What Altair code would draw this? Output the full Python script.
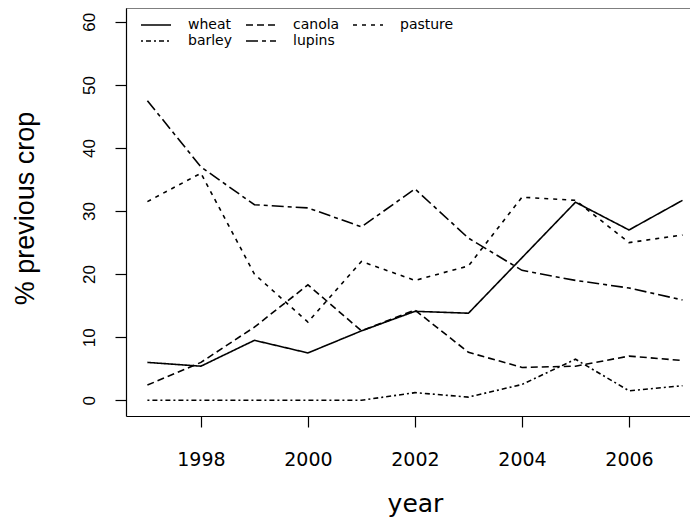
import altair as alt
import pandas as pd

years = [1997, 1998, 1999, 2000, 2001, 2002, 2003, 2004, 2005, 2006, 2007]
wheat = [6.0, 5.4, 9.5, 7.5, 11.0, 14.1, 13.8, 22.6, 31.4, 27.0, 31.7]
barley = [0.0, 0.0, 0.0, 0.0, 0.0, 1.2, 0.5, 2.5, 6.5, 1.5, 2.3]
canola = [2.4, 6.0, 11.6, 18.3, 11.0, 14.3, 7.6, 5.2, 5.4, 7.0, 6.3]
lupins = [47.5, 37.0, 31.0, 30.5, 27.5, 33.5, 25.7, 20.6, 19.0, 17.8, 15.9]
pasture = [31.5, 36.0, 20.0, 12.4, 22.0, 19.0, 21.3, 32.2, 31.7, 25.0, 26.2]

series = {"wheat": wheat, "barley": barley, "canola": canola,
          "lupins": lupins, "pasture": pasture}
legend_order = ["wheat", "barley", "canola", "lupins", "pasture"]
dash_styles = [[1, 0], [2, 3, 5, 3], [7, 4], [12, 4, 4, 4], [4, 5]]
x_ticks = [1998, 2000, 2002, 2004, 2006]
y_ticks = [0, 10, 20, 30, 40, 50, 60]

rows = []
for crop, vals in series.items():
    for yr, v in zip(years, vals):
        rows.append({"year": yr, "pct": v, "crop": crop})
df = pd.DataFrame(rows)

W, H = 564, 408

lines = alt.Chart(df).mark_line(color="black", strokeWidth=1.6, clip=True).encode(
    x=alt.X("year:Q",
            scale=alt.Scale(domain=[1996.6, 2007.14], nice=False, zero=False),
            axis=alt.Axis(values=x_ticks, format="d", title="year")),
    y=alt.Y("pct:Q",
            scale=alt.Scale(domain=[-2.5, 62.2], nice=False, zero=False),
            axis=alt.Axis(values=y_ticks, title="% previous crop")),
    strokeDash=alt.StrokeDash(
        "crop:N",
        scale=alt.Scale(domain=legend_order, range=dash_styles),
        legend=alt.Legend(title=None, orient="none", legendX=14, legendY=9,
                          columns=3, symbolType="stroke", symbolSize=900,
                          symbolStrokeWidth=1.5, symbolStrokeColor="black",
                          labelFont="DejaVu Sans", labelFontSize=14,
                          labelColor="black", labelOffset=16,
                          clipHeight=16,
                          columnPadding=12, rowPadding=0, padding=0)),
    detail="crop:N",
)

top_edge = alt.Chart(pd.DataFrame({"edge": ["top"]})).mark_rule(
    color="black", strokeWidth=1.2).encode(
    x=alt.value(0), x2=alt.value(W), y=alt.value(0))

chart = alt.layer(lines, top_edge).properties(
    width=W, height=H,
    autosize="none",
    padding={"left": 118, "top": 0, "right": 0, "bottom": 102},
    background="white",
).configure_view(stroke=None).configure_axis(
    grid=False, domainColor="black", domainWidth=1.2,
    tickColor="black", tickWidth=1.2, tickSize=11,
    labelColor="black", titleColor="black", titleFontWeight="normal",
    labelFlush=False,
).configure_axisX(
    labelFont="DejaVu Sans", labelFontSize=19, labelBaseline="alphabetic",
    labelPadding=38, titleFont="DejaVu Sans", titleFontSize=25,
    titleBaseline="alphabetic", titleY=95, titleX=289, titleAlign="center",
).configure_axisY(
    labelFont="Liberation Sans", labelFontSize=17, labelAngle=270,
    labelAlign="center", labelBaseline="alphabetic", labelPadding=21,
    titleFont="Liberation Sans", titleFontSize=27, titleAngle=270,
    titleBaseline="alphabetic", titleX=-93, titleY=200,
)

chart.save("out.html", embed_options={"renderer": "svg", "actions": False})
